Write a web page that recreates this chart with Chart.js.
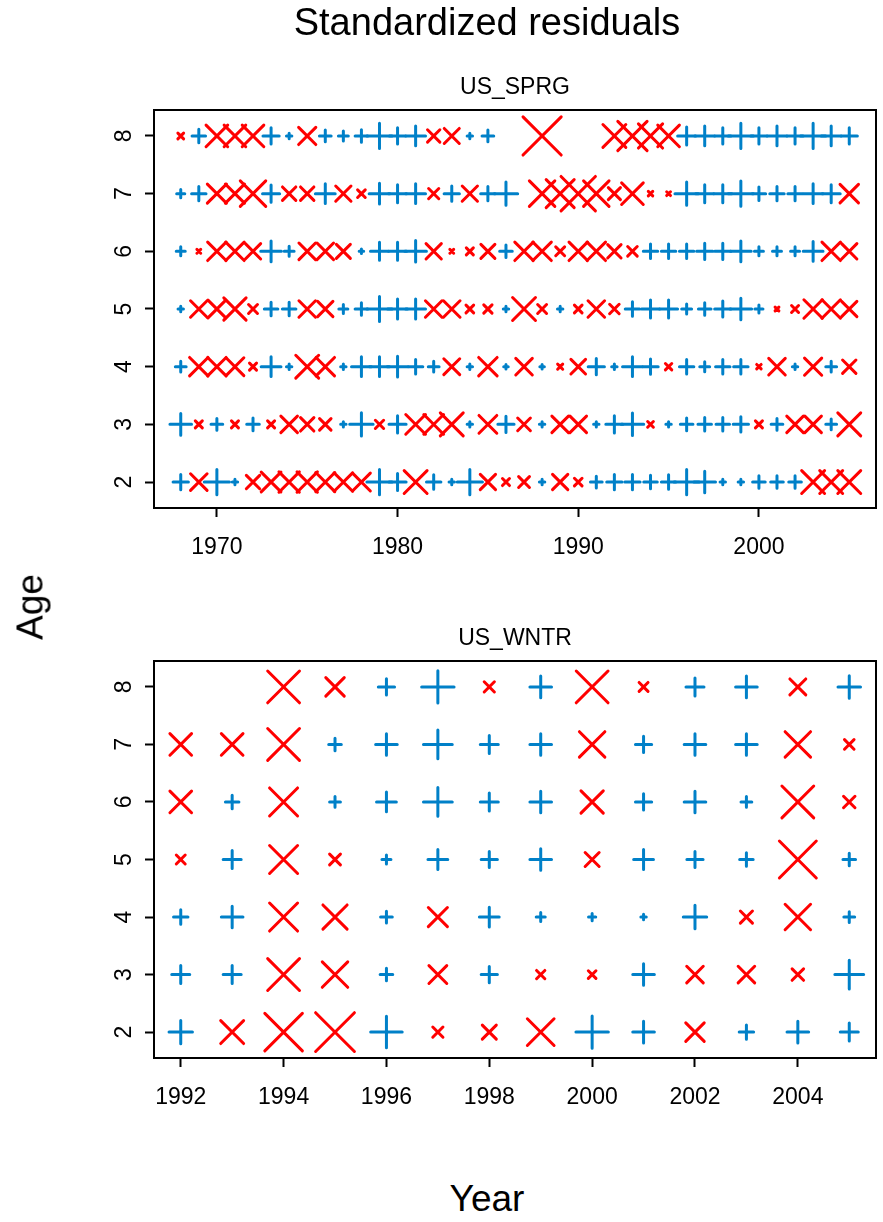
<!DOCTYPE html>
<html>
<head>
<meta charset="utf-8">
<script src="https://cdn.jsdelivr.net/npm/chart.js@4/dist/chart.umd.min.js"></script>
<style>
  body { margin: 0; background: #fff; width: 883px; height: 1222px; position: relative; overflow: hidden;
         font-family: "Liberation Sans", Arial, sans-serif; }
  canvas { position: absolute; left: 0; }
  .t { position: absolute; white-space: nowrap; color: #000; line-height: 1; transform: translate(-50%, -50%); }
</style>
</head>
<body>
<canvas id="sprg" width="883" height="590" style="top:0px"></canvas>
<canvas id="wntr" width="883" height="589" style="top:551px"></canvas>

<div class="t" style="left:487px;top:22px;font-size:38px">Standardized residuals</div>
<div class="t" style="left:515px;top:86px;font-size:23px">US_SPRG</div>
<div class="t" style="left:515px;top:637px;font-size:23px">US_WNTR</div>
<div class="t" style="left:30px;top:607px;font-size:37px;transform:translate(-50%,-50%) rotate(-90deg)">Age</div>
<div class="t" style="left:487px;top:1198px;font-size:37px">Year</div>

<script>
// ---- survey years, ages and tick labels ----
const sprgYears = [1968,1969,1970,1971,1972,1973,1974,1975,1976,1977,1978,1979,1980,1981,1982,1983,1984,1985,1986,
                   1987,1988,1989,1990,1991,1992,1993,1994,1995,1996,1997,1998,1999,2000,2001,2002,2003,2004,2005];
const wntrYears = [1992,1993,1994,1995,1996,1997,1998,1999,2000,2001,2002,2003,2004,2005];
const ages = [2,3,4,5,6,7,8];
const sprgTicks = [1970,1980,1990,2000];
const wntrTicks = [1992,1994,1996,1998,2000,2002,2004];
const ageTicks = [2,3,4,5,6,7,8];

// ---- standardized residuals, US_SPRG survey (1968-2005), null = no observation ----
const sprgAge2 = [0.85,-1.3,1.4,0.3,-1.05,-1.55,-1.6,-1.6,-1.5,-1.45,-1.4,1.4,0.95,-1.8,0.8,0.3,1.4,-1.2,-0.55,
                  -0.85,0.3,-1.2,-0.6,0.65,0.85,0.85,0.75,0.8,1.4,1.2,0.3,0.3,0.7,0.7,0.7,-1.8,-1.8,-1.8];
const sprgAge3 = [1.2,-0.55,0.65,-0.55,0.7,-0.55,-1.3,-1.05,-0.9,0.3,1.3,-0.65,0.95,-1.55,-1.55,-1.8,0.3,-1.4,0.9,
                  -1.0,0.3,-1.3,-1.3,0.3,0.95,1.25,-0.45,0.3,0.7,0.75,0.75,0.85,-0.55,0.65,-1.3,-1.3,0.6,-1.8];
const sprgAge4 = [0.6,-1.45,-1.45,-1.4,-0.55,1.1,0.3,-1.8,-1.45,0.3,1.1,1.1,1.15,0.8,0.6,-1.25,0.3,-1.45,0.25,
                  -1.3,0.25,-0.4,-1.15,0.9,0.3,1.1,0.85,-0.5,0.8,0.55,0.8,0.8,-0.35,-1.3,0.3,-1.35,0.6,-1.05];
const sprgAge5 = [0.3,-1.3,-1.4,-1.75,-0.7,0.75,0.75,-1.3,-1.2,0.5,0.7,1.4,1.1,1.1,-1.3,-1.3,-0.6,-0.65,0.3,
                  -1.8,-0.7,0.3,-0.6,-1.3,-0.75,0.8,1.0,1.0,0.55,0.7,0.9,1.2,0.45,-0.3,-0.55,-1.45,-1.45,-1.2];
const sprgAge6 = [0.5,-0.3,-1.45,-1.45,-1.2,1.15,0.55,-1.3,-1.3,-1.1,0.25,1.0,1.0,1.2,-1.2,-0.3,-0.55,-1.1,0.7,
                  -1.45,-1.45,-0.7,-1.45,-1.45,-1.05,-0.75,0.8,0.8,0.8,0.9,0.9,1.15,0.5,0.5,0.5,1.1,-1.45,-1.2];
const sprgAge7 = [0.45,0.8,-1.5,-1.5,-2.0,0.95,-1.05,-1.05,1.1,-1.2,-0.6,1.15,1.0,1.1,-0.8,0.85,-1.2,0.8,1.3,
                  null,-2.0,-2.2,-2.7,-2.0,-0.95,-1.7,-0.35,-0.3,1.3,1.0,1.0,1.4,0.75,0.8,0.8,1.1,1.0,-1.45];
const sprgAge8 = [-0.45,0.75,-1.7,-1.7,-1.7,0.9,0.3,-1.35,0.65,0.55,0.7,1.4,0.9,1.1,-0.97,-1.18,0.3,0.65,null,
                  null,-3.0,null,null,null,-1.8,-2.3,-1.9,-1.7,1.0,1.1,0.9,1.4,0.9,1.1,0.9,1.4,1.1,0.9];

// ---- standardized residuals, US_WNTR survey (1992-2005) ----
const wntrAge2 = [1.3,-1.8,-2.95,-3.05,1.75,-0.8,-1.1,-2.1,1.8,1.2,-1.45,0.8,1.2,1.0];
const wntrAge3 = [1.0,1.0,-2.5,-2.0,0.7,-1.4,0.9,-0.65,-0.6,1.2,-1.3,-1.3,-0.9,1.6];
const wntrAge4 = [0.8,1.2,-2.2,-1.9,0.65,-1.5,1.1,0.5,0.4,0.3,1.3,-0.95,-2.0,0.6];
const wntrAge5 = [-0.7,1.0,-2.2,-0.85,0.5,1.1,0.9,1.2,-1.1,1.1,0.9,0.75,-2.9,0.7];
const wntrAge6 = [-1.7,0.75,-2.2,0.6,1.1,1.6,1.0,1.2,-1.75,0.9,1.2,0.6,-2.5,-0.9];
const wntrAge7 = [-1.7,-1.7,-2.5,0.7,1.2,1.6,1.0,1.2,-2.0,0.9,1.2,1.2,-2.0,-0.75];
const wntrAge8 = [null,null,-2.5,-1.45,0.9,1.8,-0.8,1.2,-2.5,-0.7,1.0,1.2,-1.25,1.25];

// ---- styling ----
const BLUE = '#0080C8';
const RED = '#FF0000';
const PX_PER_UNIT = 9;        // symbol radius per unit of residual
const FONT = '"Liberation Sans", Arial, sans-serif';

// Split a panel's residuals into positive (+) and negative (x) point lists
function buildPoints(years, rows) {
  const pos = [], neg = [];
  rows.forEach((vals, i) => {
    vals.forEach((v, j) => {
      if (v === null) return;
      const pt = { x: years[j], y: ages[i], v: v };
      (v >= 0 ? pos : neg).push(pt);
    });
  });
  return { pos, neg };
}

// Box around the plotting region plus rotated age labels on the left axis
const panelPlugin = {
  id: 'panelFrame',
  beforeDatasetDraw(chart) { chart.ctx.lineCap = 'round'; },
  afterDraw(chart) {
    const { ctx, chartArea: a } = chart;
    ctx.save();
    ctx.strokeStyle = '#000';
    ctx.lineWidth = 2;
    ctx.lineCap = 'butt';
    ctx.strokeRect(a.left, a.top, a.right - a.left, a.bottom - a.top);
    ctx.fillStyle = '#000';
    ctx.font = '23px ' + FONT;
    ctx.textAlign = 'center';
    ctx.textBaseline = 'middle';
    const ys = chart.scales.y;
    ageTicks.forEach(v => {
      const py = ys.getPixelForValue(v);
      ctx.save();
      ctx.translate(124, py);
      ctx.rotate(-Math.PI / 2);
      ctx.fillText(String(v), 0, 1);
      ctx.restore();
    });
    ctx.restore();
  }
};

function makePanel(id, years, rows, xTicks, xMin, xMax) {
  const { pos, neg } = buildPoints(years, rows);
  const radius = c => Math.abs(c.raw.v) * PX_PER_UNIT;
  const axisGrid = { drawOnChartArea: false, drawTicks: true, tickLength: 9, tickWidth: 2, tickColor: '#000', color: '#000' };
  return new Chart(document.getElementById(id), {
    type: 'scatter',
    data: {
      datasets: [
        { data: pos, pointStyle: 'cross', borderColor: BLUE, backgroundColor: BLUE,
          pointRadius: radius, pointHoverRadius: radius, pointBorderWidth: 3, clip: false },
        { data: neg, pointStyle: 'crossRot', borderColor: RED, backgroundColor: RED,
          pointRadius: radius, pointHoverRadius: radius, pointBorderWidth: 3, clip: false }
      ]
    },
    options: {
      responsive: false,
      animation: false,
      devicePixelRatio: 1,
      layout: { autoPadding: false, padding: { top: 110, right: 7, left: 0, bottom: 0 } },
      plugins: { legend: { display: false }, tooltip: { enabled: false } },
      events: [],
      scales: {
        x: {
          type: 'linear', min: xMin, max: xMax,
          afterBuildTicks: s => { s.ticks = xTicks.map(v => ({ value: v })); },
          afterFit: s => { s.height = 82; },
          grid: axisGrid,
          border: { display: false },
          ticks: { color: '#000', font: { family: FONT, size: 23 }, padding: 17,
                   maxRotation: 0, autoSkip: false, callback: v => String(v) }
        },
        y: {
          type: 'linear', min: 1.55, max: 8.45,
          afterBuildTicks: s => { s.ticks = ageTicks.map(v => ({ value: v })); },
          afterFit: s => { s.width = 154; },
          grid: axisGrid,
          border: { display: false },
          ticks: { display: false }
        }
      }
    },
    plugins: [panelPlugin]
  });
}

makePanel('sprg', sprgYears,
  [sprgAge2, sprgAge3, sprgAge4, sprgAge5, sprgAge6, sprgAge7, sprgAge8],
  sprgTicks, 1966.52, 2006.48);
makePanel('wntr', wntrYears,
  [wntrAge2, wntrAge3, wntrAge4, wntrAge5, wntrAge6, wntrAge7, wntrAge8],
  wntrTicks, 1991.48, 2005.52);
</script>
</body>
</html>
